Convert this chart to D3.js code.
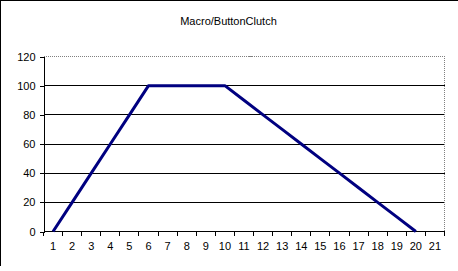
<!DOCTYPE html>
<html>
<head>
<meta charset="utf-8">
<script src="https://cdn.jsdelivr.net/npm/d3@7"></script>
<style>
  body { margin: 0; background: #fff; }
  svg text { font-family: Arial, 'Liberation Sans', sans-serif; font-size: 11px; fill: #000; }
</style>
</head>
<body>
<div id="chart"></div>
<script>
const title = 'Macro/ButtonClutch';
const categories = ['1', '2', '3', '4', '5', '6', '7', '8', '9', '10', '11',
  '12', '13', '14', '15', '16', '17', '18', '19', '20', '21'];
const values = [0, 20, 40, 60, 80, 100, 100, 100, 100, 100, 90,
  80, 70, 60, 50, 40, 30, 20, 10, 0, null];
const yTicks = [0, 20, 40, 60, 80, 100, 120];

const WIDTH = 458;
const HEIGHT = 271;
const plot = { left: 43.5, right: 444.5, top: 56.5, bottom: 231.5 };

const svg = d3.select('#chart')
  .append('svg')
  .attr('width', WIDTH)
  .attr('height', HEIGHT);

// chart frame (only top and left edges visible)
svg.append('line')
  .attr('x1', 0).attr('x2', WIDTH).attr('y1', 0.5).attr('y2', 0.5)
  .attr('stroke', '#000');
svg.append('line')
  .attr('x1', 0.5).attr('x2', 0.5).attr('y1', 0).attr('y2', 266)
  .attr('stroke', '#000');

const x = d3.scaleBand()
  .domain(categories)
  .range([plot.left, plot.right]);

const y = d3.scaleLinear()
  .domain([0, 120])
  .range([plot.bottom, plot.top]);

// gridlines
svg.append('g')
  .selectAll('line')
  .data(yTicks.filter((d) => d > 0 && d < 120))
  .enter()
  .append('line')
  .attr('x1', plot.left)
  .attr('x2', plot.right)
  .attr('y1', (d) => y(d))
  .attr('y2', (d) => y(d))
  .attr('stroke', '#000')
  .attr('shape-rendering', 'crispEdges');

// plot area border (top / right dotted grey)
svg.append('path')
  .attr('d', `M${plot.left},${y(120)}H${plot.right}V${plot.bottom}`)
  .attr('fill', 'none')
  .attr('stroke', '#808080')
  .attr('stroke-dasharray', '1,1')
  .attr('shape-rendering', 'crispEdges');

// y axis
const yAxis = d3.axisLeft(y)
  .tickValues(yTicks)
  .tickSize(4)
  .tickPadding(4)
  .tickFormat(d3.format('d'));

svg.append('g')
  .attr('transform', `translate(${plot.left},0)`)
  .call(yAxis)
  .call((g) => g.selectAll('.domain, .tick line').attr('stroke', '#000').attr('shape-rendering', 'crispEdges'))
  .call((g) => g.selectAll('text').attr('font-size', null).attr('font-family', null));

// x axis: ticks between categories, labels centred
const xAxisG = svg.append('g')
  .attr('transform', `translate(0,${plot.bottom})`);

xAxisG.append('line')
  .attr('x1', plot.left).attr('x2', plot.right)
  .attr('stroke', '#000')
  .attr('shape-rendering', 'crispEdges');

const edges = categories.map((c) => x(c)).concat([plot.right]);
xAxisG.selectAll('.tick-mark')
  .data(edges)
  .enter()
  .append('line')
  .attr('class', 'tick-mark')
  .attr('x1', (d) => d).attr('x2', (d) => d)
  .attr('y1', 0).attr('y2', 4)
  .attr('stroke', '#000')
  .attr('shape-rendering', 'crispEdges');

xAxisG.selectAll('text')
  .data(categories)
  .enter()
  .append('text')
  .attr('x', (d) => x(d) + x.bandwidth() / 2)
  .attr('y', 18.5)
  .attr('text-anchor', 'middle')
  .text((d) => d);

// series line
const line = d3.line()
  .defined((d) => d !== null)
  .x((d, i) => x(categories[i]) + x.bandwidth() / 2)
  .y((d) => y(d));

svg.append('path')
  .datum(values)
  .attr('d', line)
  .attr('fill', 'none')
  .attr('stroke', '#000080')
  .attr('stroke-width', 3)
  .attr('stroke-linejoin', 'round');

// title
svg.append('text')
  .attr('x', 228.5)
  .attr('y', 25)
  .attr('text-anchor', 'middle')
  .text(title);
</script>
</body>
</html>
